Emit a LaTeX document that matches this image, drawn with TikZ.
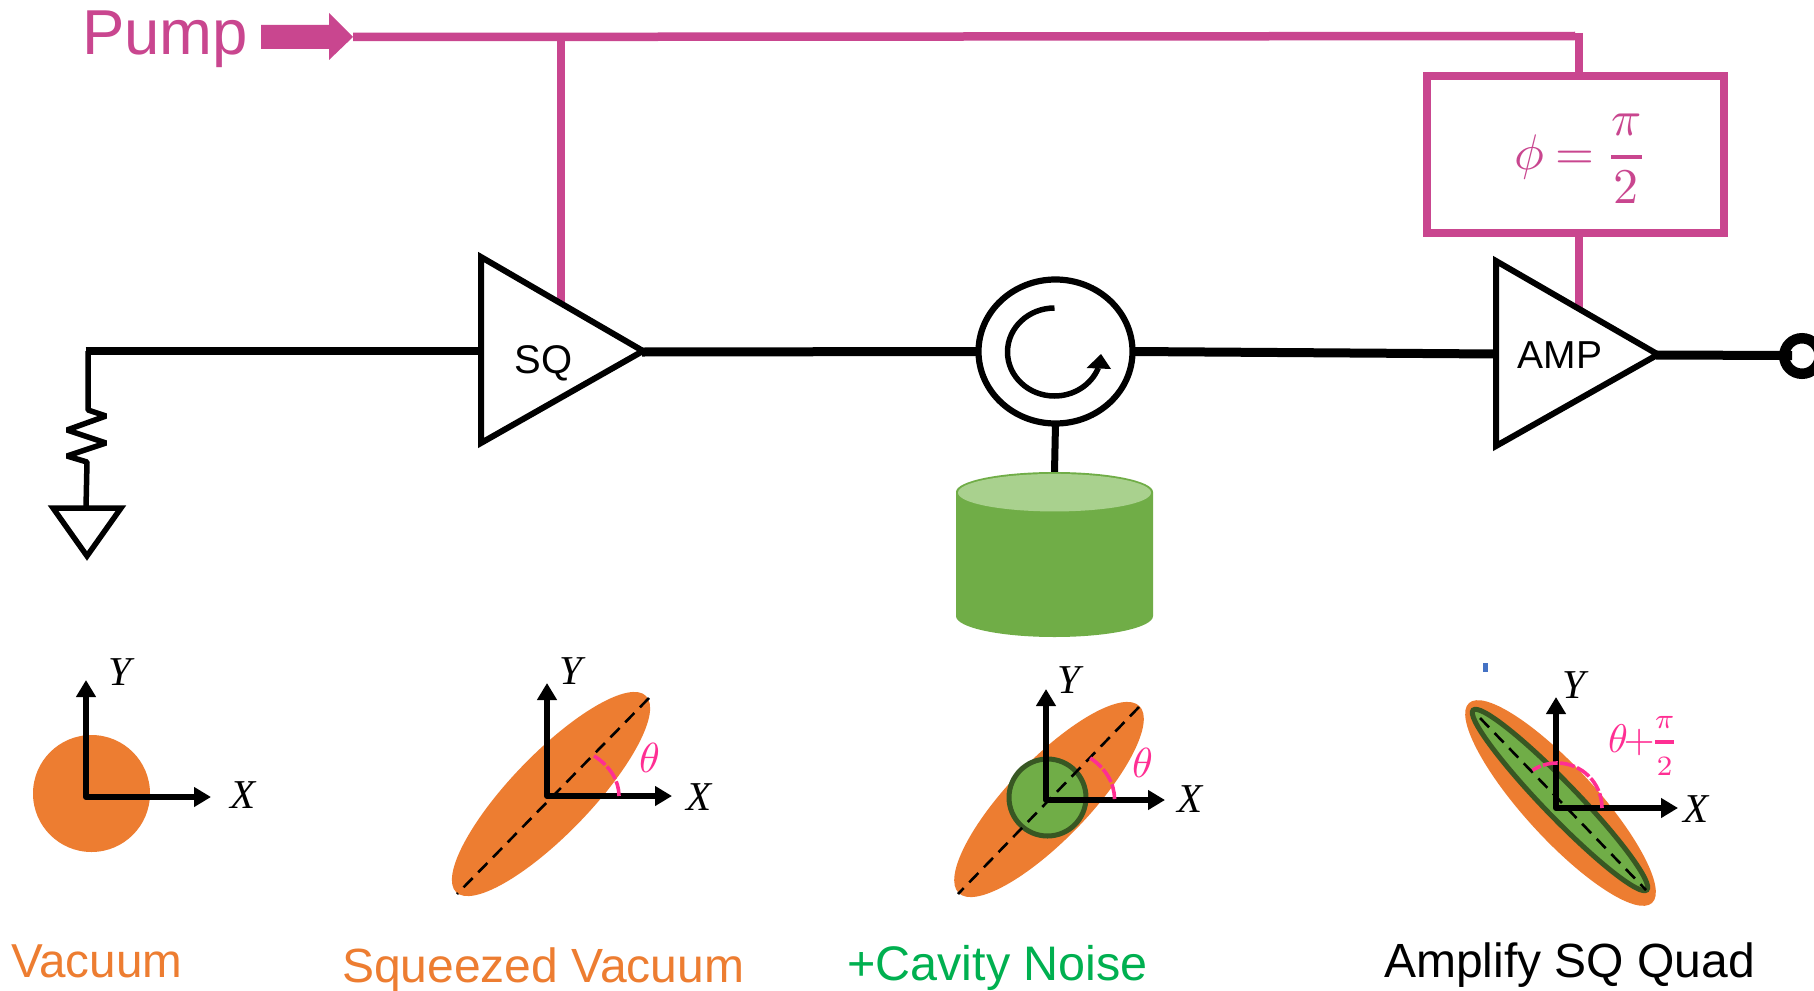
\documentclass[tikz,border=0pt]{standalone}
\usepackage{fontspec}
\usepackage{amsmath}
\usepackage{graphicx}
\setmainfont{Liberation Sans}
\newfontfamily\axisfont{Liberation Serif}[ItalicFont={Liberation Serif Italic}]
\usetikzlibrary{arrows.meta,shapes.geometric}
\definecolor{pumpc}{HTML}{C9468F}
\definecolor{orangec}{HTML}{ED7D31}
\definecolor{greenc}{HTML}{70AD47}
\definecolor{lightg}{HTML}{A9D18E}
\definecolor{darkg}{HTML}{385723}
\definecolor{anglec}{HTML}{FF2E93}
\definecolor{noisec}{HTML}{00B050}
\definecolor{tickc}{HTML}{4472C4}
\newcommand{\fsz}[1]{\fontsize{#1}{#1}\selectfont}
\tikzset{
  pumpwire/.style={draw=pumpc,line width=8pt},
  wire/.style={draw=black,line width=9pt},
  thinwire/.style={draw=black,line width=5.5pt,line join=bevel},
  amptri/.style={draw=black,line width=6pt,fill=white,line join=miter},
  squeezed/.style={ellipse,fill=orangec,inner sep=0pt,outer sep=0pt},
  noisy/.style={ellipse,fill=greenc,draw=darkg,line width=5pt,inner sep=0pt,outer sep=0pt},
  axes/.style={line width=6pt,line join=round,
    {Triangle[length=17pt,width=19pt]}-{Triangle[length=17pt,width=19pt]}},
  majoraxis/.style={draw=black,line width=2.6pt,dash pattern=on 13pt off 8pt},
  anglearc/.style={draw=anglec,line width=3.6pt,dash pattern=on 15pt off 2.5pt},
  axlabel/.style={inner sep=0pt,font=\axisfont\itshape\fsz{41}},
  anglelabel/.style={inner sep=0pt,text=anglec},
  caption/.style={inner sep=0pt,anchor=base west},
  amptext/.style={inner sep=0pt,text=black,anchor=base}
}
\begin{document}
\begin{tikzpicture}[x=1pt,y=-1pt]
\clip (0,0) rectangle (1814,990);
\fill[white] (0,0) rectangle (1814,990);

% pump
\node[caption,text=pumpc,font=\fsz{63.5}] (pumplabel) at (82,55) {Pump};
\fill[pumpc] (261,25) -- (329,25) -- (329,13) -- (353,37) -- (329,60) -- (329,49) -- (261,49) -- cycle;
\coordinate (pumpstart) at (353,37);
\coordinate (sqpump) at (561,37);
\coordinate (sqpumpend) at (561,304);
\draw[draw=pumpc,line width=8.5pt] (pumpstart) -- (1575,36);
\draw[pumpwire] (sqpump) -- (sqpumpend);
\node[draw=pumpc,line width=7.6pt,minimum width=297pt,minimum height=157pt,inner sep=0pt,outer sep=0pt,fill=white] (phasebox) at (1575.5,154.5) {};
\node[inner sep=0pt,text=pumpc,anchor=base] (phaselabel) at (1581,169.5)
  {\scalebox{5}{$\displaystyle\phi\:{=}\:\genfrac{}{}{0.8pt}{0}{\pi}{2}$}};
\coordinate (amppump) at (1579,308);
\draw[pumpwire] (1578.5,33) -- (1578.5,76);
\draw[pumpwire] (1579,233) -- (amppump);

% input branch
\coordinate (termcorner) at (88,351);
\coordinate (sqin) at (481,351);
\coordinate (sqout) at (642,352);
\coordinate (ampin) at (1496,354);
\coordinate (ampout) at (1656,355);
\coordinate (outend) at (1792,355.5);
\draw[wire,line width=8pt] (85.5,351) -- (sqin);
\draw[thinwire] (termcorner) -- (88,410) -- (106,416) -- (67,430) -- (106,443) -- (67,456) -- (87,462) -- (86,508);
\draw[draw=black,line width=5.5pt,line join=miter] (53,508) -- (121,508) -- (87,556) -- cycle;

% amplifiers
\node[draw=black,line width=6.2pt,ellipse,minimum width=154pt,minimum height=144pt,inner sep=0pt,outer sep=0pt,fill=white] (circ) at (1055.5,351.5) {};
\draw[wire] (sqout) -- (circ.west);
\draw[wire] (circ.east) -- (ampin);
\draw[wire] (ampout) -- (outend);
\draw[amptri] (481,257) -- (481,443) -- (643,351) -- cycle;
\draw[amptri] (1496,261) -- (1496,446) -- (1658,354.5) -- cycle;
\node[amptext,font=\fsz{40}] (sqlabel) at (543.5,373) {SQ};
\node[amptext,font=\fsz{39}] (amplabel) at (1560,368) {AMP};
\node[draw=black,line width=10.5pt,circle,minimum size=35.5pt,inner sep=0pt,outer sep=0pt] (terminal) at (1802,356) {};

% circulator arrow
\draw[draw=black,line width=5.5pt] (1054.5,308) arc[start angle=90,end angle=338.7,x radius=47pt,y radius=44pt];
\fill[black] (1101,354) -- (1111,369) -- (1086.5,368) -- cycle;

% cavity
\coordinate (cavtop) at (1054.5,472);
\draw[line width=7pt] (circ.south) -- (cavtop);
\path[fill=greenc] (956,492) -- (956,616) arc[start angle=180,end angle=360,x radius=98.5pt,y radius=21pt] -- (1153,492) arc[start angle=0,end angle=180,x radius=98.5pt,y radius=20pt] -- cycle;
\node[ellipse,fill=lightg,minimum width=193pt,minimum height=37.5pt,inner sep=0pt,outer sep=0pt] (cavlid) at (1054.5,492.7) {};

% vacuum
\node[circle,fill=orangec,minimum size=117pt,inner sep=0pt,outer sep=0pt] (vacstate) at (91.5,793.5) {};
\coordinate (oA) at (86,797);
\coordinate (yA) at (86,680);
\coordinate (xA) at (211,797);
\draw[axes] (yA) -- (oA) -- (xA);
\node[axlabel] (yAl) at (119.5,672.5) {Y};
\node[axlabel] (xAl) at (243,795.5) {X};
\node[caption,text=orangec,font=\fsz{47.6}] (capA) at (11,977) {Vacuum};

% squeezed vacuum
\node[squeezed,minimum width=273pt,minimum height=80pt,rotate=46] (sqstate) at (551,794) {};
\coordinate (oB) at (547,796);
\coordinate (yB) at (547,683);
\coordinate (xB) at (672,796);
\coordinate (dB1) at (649,698);
\coordinate (dB2) at (457,894);
\draw[majoraxis] (dB1) -- (dB2);
\draw[axes] (yB) -- (oB) -- (xB);
\draw[anglearc] (619,796) arc[start angle=0,end angle=49.2,x radius=72pt,y radius=53pt];
\node[axlabel] (yBl) at (571,671.5) {Y};
\node[axlabel] (xBl) at (699,797) {X};
\node[anglelabel] (thB) at (649.5,758) {\scalebox{4.2}{$\theta$}};
\node[caption,text=orangec,font=\fsz{48}] (capB) at (342,982) {Squeezed Vacuum};

% cavity noise
\node[squeezed,minimum width=260pt,minimum height=80pt,rotate=46] (cnstate) at (1049,799.5) {};
\node[noisy,circle,minimum size=77pt] (cncirc) at (1047.5,797.5) {};
\coordinate (oC) at (1046,800);
\coordinate (yC) at (1046,689);
\coordinate (xC) at (1165,800);
\coordinate (dC1) at (1139,707);
\coordinate (dC2) at (958,894);
\draw[majoraxis] (dC1) -- (dC2);
\draw[axes] (yC) -- (oC) -- (xC);
\draw[anglearc] (1114.5,799) arc[start angle=0,end angle=50,x radius=68pt,y radius=53.5pt];
\node[axlabel] (yCl) at (1069,680) {Y};
\node[axlabel] (xCl) at (1190,799.5) {X};
\node[anglelabel] (thC) at (1142.5,762.5) {\scalebox{4.2}{$\theta$}};
\node[caption,text=noisec,font=\fsz{48.5}] (capC) at (847,980) {+Cavity Noise};

% amplified
\node[squeezed,minimum width=271pt,minimum height=72pt,rotate=-47.5] (ampstate) at (1560.5,803) {};
\node[noisy,minimum width=250pt,minimum height=34pt,rotate=-46] (ampgreen) at (1560,800) {};
\coordinate (oD) at (1556,808);
\coordinate (yD) at (1556,697);
\coordinate (xD) at (1678,808);
\coordinate (dD1) at (1480,718);
\coordinate (dD2) at (1646,890);
\draw[majoraxis] (dD1) -- (dD2);
\draw[axes] (yD) -- (oD) -- (xD);
\draw[anglearc] (1602,808) arc[start angle=0,end angle=123,radius=45pt];
\node[axlabel] (yDl) at (1574,685) {Y};
\node[axlabel] (xDl) at (1696,809) {X};
\node[anglelabel,anchor=base west] (thD) at (1608,752)
  {\scalebox{4}{\nulldelimiterspace=0pt$\theta\mkern-2mu{\mathbf{+}}\genfrac{}{}{0.9pt}{1}{\raisebox{2pt}{$\scriptstyle\pi$}}{\raisebox{-2.5pt}{$\scriptstyle 2$}}$}};
\fill[tickc] (1483,663) rectangle (1488,672);
\node[caption,text=black,font=\fsz{48}] (capD) at (1384,977) {Amplify SQ Quad};
\end{tikzpicture}
\end{document}
